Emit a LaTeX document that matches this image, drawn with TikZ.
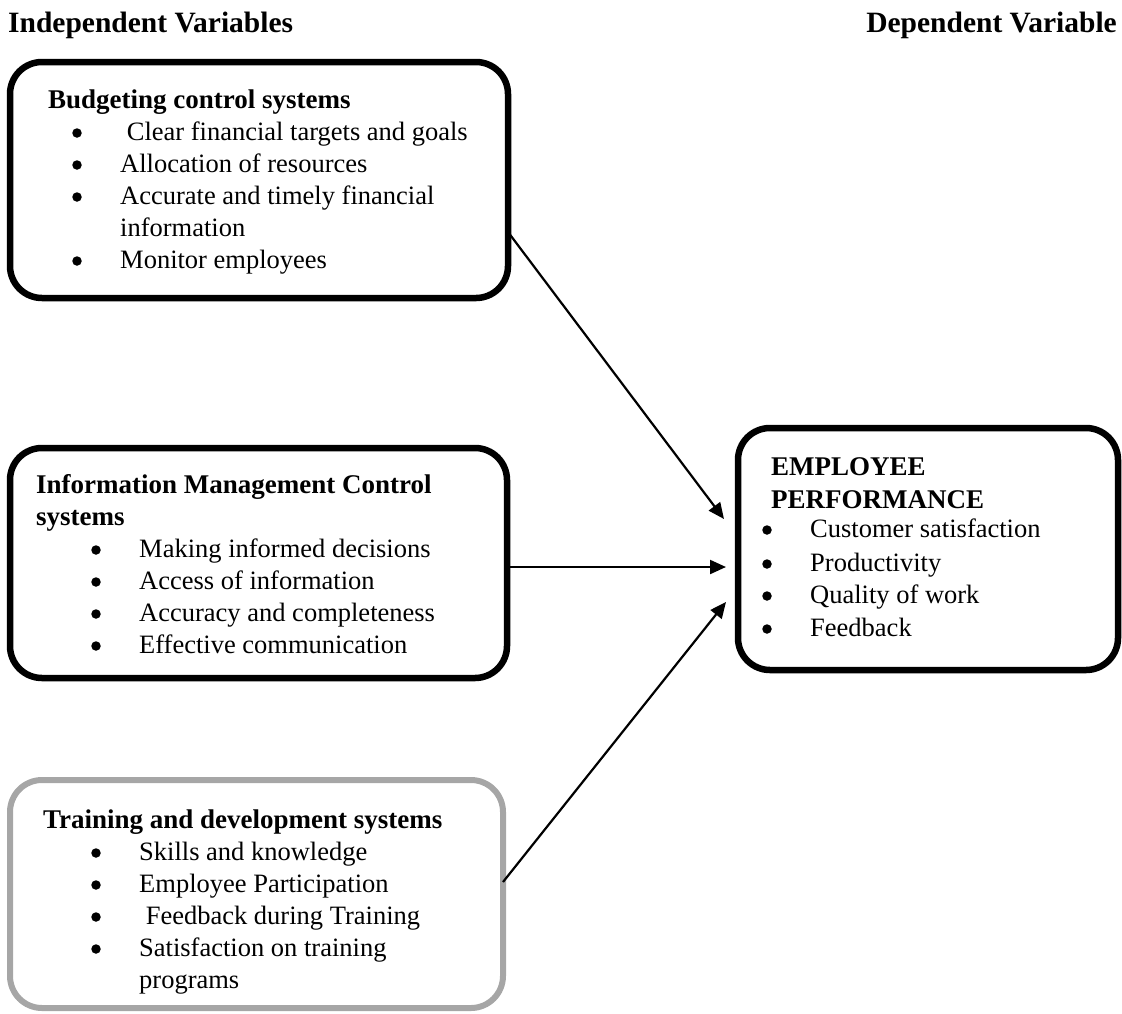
\documentclass[tikz,border=0pt]{standalone}
\usepackage{fontspec}
\setmainfont{Liberation Serif}
\usetikzlibrary{arrows.meta}
\usetikzlibrary{positioning}

\begin{document}
\begin{tikzpicture}[x=1pt,y=-1pt,
  box/.style={draw,line width=6.5pt,rounded corners=32pt,inner sep=0pt,outer sep=0pt},
  txt/.style={anchor=base west,inner sep=0pt,font=\fontsize{26.5}{30}\selectfont},
  hd/.style={txt,font=\fontsize{27}{30}\selectfont\bfseries},
  ttl/.style={txt,font=\fontsize{29.5}{34}\selectfont\bfseries},
  dot/.style={circle,fill,inner sep=0pt,minimum size=9.5pt},
  conn/.style={line width=2.2pt,-{Triangle[length=16pt,width=14pt]}}]
\useasboundingbox (0,0) rectangle (1122,1013);

\node[ttl] (indep) at (8,32) {Independent Variables};
\node[ttl,anchor=base east] (dep) at (1117,32) {Dependent Variable};

% boxes
\node[box,minimum width=498pt,minimum height=236pt] (budget) at (259,180) {};
\node[box,minimum width=497pt,minimum height=230pt] (info) at (258.5,563) {};
\node[box,draw=black!35,line width=6pt,minimum width=493pt,minimum height=228pt] (train) at (256.5,894) {};
\node[box,minimum width=380pt,minimum height=242pt] (emp) at (928,549) {};

% budgeting
\node[hd] (budgethd) at (48,108) {Budgeting control systems};
\node[txt] (budget1) at (120,140) {\ Clear financial targets and goals};
\node[txt] (budget2) at (120,172) {Allocation of resources};
\node[txt] (budget3) at (120,204) {Accurate and timely financial};
\node[txt] (budget3b) at (120,236) {information};
\node[txt] (budget4) at (120,268) {Monitor employees};
\foreach \y/\n in {133/1,165/2,197/3,261/4} \node[dot] (budgetdot\n) at (77,\y) {};

% information
\node[hd] (infohd) at (36,493) {Information Management Control};
\node[hd] (infohdb) at (36,525) {systems};
\node[txt] (info1) at (139,557) {Making informed decisions};
\node[txt] (info2) at (139,589) {Access of information};
\node[txt] (info3) at (139,621) {Accuracy and completeness};
\node[txt] (info4) at (139,653) {Effective communication};
\foreach \y/\n in {550/1,582/2,614/3,646/4} \node[dot] (infodot\n) at (96,\y) {};

% training
\node[hd] (trainhd) at (43,828) {Training and development systems};
\node[txt] (train1) at (139,860) {Skills and knowledge};
\node[txt] (train2) at (139,892) {Employee Participation};
\node[txt] (train3) at (139,924) {\ Feedback during Training};
\node[txt] (train4) at (139,956) {Satisfaction on training};
\node[txt] (train4b) at (139,988) {programs};
\foreach \y/\n in {853/1,885/2,917/3,949/4} \node[dot] (traindot\n) at (96,\y) {};

% employee performance
\node[hd] (emphd) at (771,475) {EMPLOYEE};
\node[hd] (emphdb) at (771,508) {PERFORMANCE};
\node[txt] (emp1) at (810,537) {Customer satisfaction};
\node[txt] (emp2) at (810,571) {Productivity};
\node[txt] (emp3) at (810,603) {Quality of work};
\node[txt] (emp4) at (810,636) {Feedback};
\foreach \y/\n in {530/1,564/2,596/3,629/4} \node[dot] (empdot\n) at (767,\y) {};

\draw[conn] ([yshift=-52pt]budget.east) -- ([xshift=-14pt,yshift=30pt]emp.west);
\draw[conn] ([yshift=-4pt]info.east) -- ([xshift=-12pt,yshift=-18pt]emp.west);
\draw[conn] ([yshift=12pt]train.east) -- ([xshift=-12pt,yshift=-53pt]emp.west);
\end{tikzpicture}
\end{document}
